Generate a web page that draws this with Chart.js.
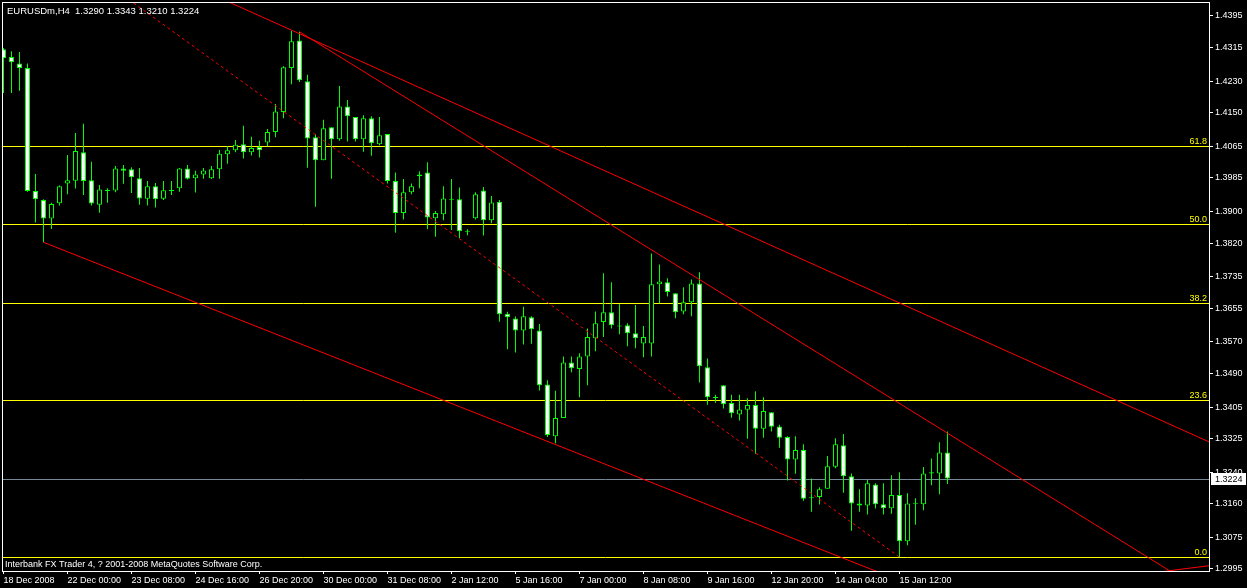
<!DOCTYPE html>
<html><head><meta charset="utf-8">
<script src="https://cdn.jsdelivr.net/npm/chart.js@4.4.1/dist/chart.umd.min.js"></script>
<style>html,body{margin:0;padding:0;background:#000;overflow:hidden}canvas{display:block}</style>
</head><body>
<canvas id="c" width="1247" height="588"></canvas>
<script>
const symbol = 'EURUSDm,H4';
const opens = [1.4311,1.4291,1.4275,1.4263,1.3952,1.3929,1.3882,1.3921,1.3971,1.3978,
 1.4050,1.3979,1.3917,1.3952,1.3953,1.4009,1.4007,1.3984,1.3932,1.3964,
 1.3932,1.3952,1.3959,1.4009,1.3984,1.3994,1.3984,1.4007,1.4045,1.4055,
 1.4070,1.4050,1.4063,1.4075,1.4101,1.4152,1.4263,1.4333,1.4230,1.4088,
 1.4030,1.4113,1.4083,1.4166,1.4139,1.4083,1.4136,1.4070,1.4096,1.3977,
 1.3896,1.3949,1.3994,1.3999,1.3883,1.3893,1.3932,1.3931,1.3849,1.3883,
 1.3953,1.3878,1.3925,1.3641,1.3629,1.3599,1.3632,1.3599,1.3462,1.3331,
 1.3377,1.3518,1.3501,1.3533,1.3579,1.3620,1.3645,1.3611,1.3612,1.3592,
 1.3566,1.3566,1.3716,1.3721,1.3693,1.3647,1.3670,1.3718,1.3506,1.3429,
 1.3460,1.3415,1.3386,1.3398,1.3410,1.3350,1.3392,1.3356,1.3329,1.3272,
 1.3296,1.3176,1.3177,1.3198,1.3254,1.3308,1.3230,1.3161,1.3156,1.3209,
 1.3159,1.3149,1.3182,1.3065,1.3160,1.3159,1.3237,1.3237,1.3290];
const highs = [1.4314,1.4306,1.4304,1.4275,1.3995,1.3931,1.3922,1.3966,1.4043,1.4099,
 1.4122,1.4026,1.3967,1.3959,1.4015,1.4018,1.4012,1.4010,1.3977,1.3972,
 1.3977,1.3977,1.4010,1.4018,1.4003,1.4010,1.4015,1.4056,1.4065,1.4081,
 1.4117,1.4089,1.4079,1.4109,1.4172,1.4268,1.4357,1.4355,1.4246,1.4096,
 1.4132,1.4113,1.4218,1.4182,1.4139,1.4144,1.4141,1.4139,1.4096,1.3999,
 1.3982,1.3971,1.4002,1.4025,1.3901,1.3964,1.3982,1.3961,1.3855,1.3949,
 1.3962,1.3939,1.3929,1.3646,1.3634,1.3659,1.3635,1.3615,1.3473,1.3446,
 1.3533,1.3533,1.3541,1.3604,1.3647,1.3744,1.3721,1.3665,1.3617,1.3663,
 1.3610,1.3794,1.3766,1.3731,1.3693,1.3708,1.3728,1.3746,1.3528,1.3436,
 1.3460,1.3436,1.3436,1.3427,1.3445,1.3430,1.3392,1.3360,1.3331,1.3331,
 1.3311,1.3224,1.3202,1.3281,1.3326,1.3337,1.3237,1.3197,1.3220,1.3212,
 1.3212,1.3232,1.3240,1.3187,1.3174,1.3253,1.3275,1.3316,1.3343];
const lows = [1.4200,1.4200,1.4206,1.3950,1.3872,1.3822,1.3856,1.3915,1.3944,1.3958,
 1.3942,1.3915,1.3897,1.3922,1.3949,1.3970,1.3947,1.3917,1.3915,1.3910,
 1.3929,1.3942,1.3950,1.3981,1.3948,1.3983,1.3982,1.3983,1.4021,1.4050,
 1.4034,1.4042,1.4037,1.4065,1.4088,1.4136,1.4222,1.4228,1.4011,1.3912,
 1.4030,1.3983,1.4079,1.4077,1.4077,1.4051,1.4041,1.4068,1.3971,1.3846,
 1.3880,1.3944,1.3959,1.3855,1.3836,1.3878,1.3853,1.3832,1.3840,1.3880,
 1.3839,1.3870,1.3621,1.3551,1.3543,1.3563,1.3565,1.3447,1.3329,1.3313,
 1.3377,1.3493,1.3430,1.3460,1.3546,1.3582,1.3604,1.3589,1.3559,1.3554,
 1.3531,1.3533,1.3668,1.3685,1.3630,1.3640,1.3635,1.3467,1.3411,1.3416,
 1.3401,1.3378,1.3371,1.3325,1.3287,1.3327,1.3343,1.3302,1.3219,1.3236,
 1.3168,1.3140,1.3158,1.3198,1.3250,1.3188,1.3092,1.3140,1.3133,1.3148,
 1.3133,1.3135,1.3025,1.3055,1.3107,1.3144,1.3207,1.3184,1.3210];
const closes = [1.4288,1.4278,1.4263,1.3952,1.3931,1.3882,1.3919,1.3964,1.3979,1.4053,
 1.3977,1.3920,1.3956,1.3955,1.4009,1.4003,1.3987,1.3933,1.3964,1.3931,
 1.3954,1.3954,1.4009,1.3983,1.3994,1.4004,1.4007,1.4046,1.4055,1.4069,
 1.4050,1.4061,1.4055,1.4101,1.4153,1.4265,1.4331,1.4232,1.4085,1.4030,
 1.4111,1.4083,1.4166,1.4141,1.4083,1.4136,1.4073,1.4093,1.3977,1.3896,
 1.3949,1.3964,1.3989,1.3885,1.3896,1.3933,1.3930,1.3850,1.3851,1.3944,
 1.3878,1.3923,1.3640,1.3632,1.3599,1.3635,1.3602,1.3460,1.3334,1.3377,
 1.3518,1.3503,1.3533,1.3582,1.3617,1.3645,1.3612,1.3609,1.3592,1.3579,
 1.3582,1.3716,1.3723,1.3696,1.3645,1.3670,1.3718,1.3508,1.3430,1.3428,
 1.3412,1.3389,1.3399,1.3410,1.3350,1.3395,1.3355,1.3327,1.3272,1.3296,
 1.3173,1.3174,1.3197,1.3255,1.3311,1.3230,1.3161,1.3156,1.3212,1.3159,
 1.3149,1.3182,1.3065,1.3161,1.3161,1.3237,1.3240,1.3290,1.3224];
const priceTicks = [1.4395,1.4315,1.4230,1.4150,1.4065,1.3985,1.3900,1.3820,1.3735,
 1.3655,1.3570,1.3490,1.3405,1.3325,1.3240,1.3160,1.3075,1.2995];
const dateTickIndex = [0,8,16,24,32,40,48,56,64,72,80,88,96,104,112];
const dateTickLabels = ['18 Dec 2008','22 Dec 00:00','23 Dec 08:00','24 Dec 16:00','26 Dec 20:00',
 '30 Dec 00:00','31 Dec 08:00','2 Jan 12:00','5 Jan 16:00','7 Jan 00:00','8 Jan 08:00',
 '9 Jan 16:00','12 Jan 20:00','14 Jan 04:00','15 Jan 12:00'];
const fibLabels = ['0.0','23.6','38.2','50.0','61.8'];
const fibPrices = [1.3025,1.3422,1.3668,1.3868,1.4067];
const bidPrice = 1.3224;
const channelUpper = [{x:28.2,y:1.4430},{x:151,y:1.3314}];
const channelMiddle = [{x:37,y:1.4355},{x:147,y:1.2975}];
const channelLower = [{x:5,y:1.3822},{x:112,y:1.2966}];
const dottedTrend = [{x:16.25,y:1.4428},{x:112,y:1.3025}];
const bottomRay = [{x:143.5,y:1.2985},{x:151,y:1.3004}];
const copyright = 'Interbank FX Trader 4, ? 2001-2008 MetaQuotes Software Corp.';

const xMin = -0.1875, xMax = 150.6875;
const yMin = 1.29899, yMax = 1.44304;
const GREEN = '#00ff00', RED = '#ff0000', YEL = '#ffff00', WHITE = '#ffffff', BIDC = '#778899';
const FONT = 'Liberation Sans, Arial, sans-serif';

const idx = opens.map((_, i) => i);
const bodies = idx.map(i => ({x: i, y: [Math.min(opens[i], closes[i]), Math.max(opens[i], closes[i])]}));
const wicks = idx.map(i => ({x: i, y: [lows[i], highs[i]]}));
const bodyFill = idx.map(i => closes[i] < opens[i] ? WHITE : '#000000');

function lineDs(data, color, dash){
  return {type:'line', data, borderColor:color, borderWidth:1, pointRadius:0, fill:false,
    tension:0, borderDash: dash || [], order:0};
}

const datasets = [
  lineDs(channelUpper, RED), lineDs(channelMiddle, RED), lineDs(channelLower, RED),
  lineDs(dottedTrend, RED, [3,3]), lineDs(bottomRay, RED),
  {type:'bar', data:bodies, backgroundColor:bodyFill, borderColor:GREEN, borderWidth:1,
   borderSkipped:false, grouped:false, barPercentage:1, categoryPercentage:1,
   maxBarThickness:5, minBarLength:1, inflateAmount:0, order:1},
  {type:'bar', data:wicks, backgroundColor:GREEN, borderWidth:0, grouped:false,
   barPercentage:1, categoryPercentage:1, maxBarThickness:1, inflateAmount:0, order:2},
];

function crispH(ctx, a, yv, color){
  const py = Math.round(yv) + 0.5;
  ctx.strokeStyle = color; ctx.lineWidth = 1;
  ctx.beginPath(); ctx.moveTo(a.left, py); ctx.lineTo(a.right, py); ctx.stroke();
}

const overlay = {
  id:'overlay',
  beforeDatasetsDraw(chart){
    const {ctx, chartArea:a, scales:{y}} = chart;
    ctx.save();
    crispH(ctx, a, y.getPixelForValue(bidPrice), BIDC);
    fibPrices.forEach(p => crispH(ctx, a, y.getPixelForValue(p), YEL));
    ctx.restore();
  },
  afterDatasetsDraw(chart){
    const {ctx, chartArea:a, scales:{y}} = chart;
    ctx.save();
    ctx.font = '9px ' + FONT; ctx.fillStyle = YEL; ctx.textAlign = 'right'; ctx.textBaseline = 'alphabetic';
    fibPrices.forEach((p, k) => ctx.fillText(fibLabels[k], a.right - 2, Math.round(y.getPixelForValue(p)) - 2));
    ctx.restore();
  },
  afterDraw(chart){
    const {ctx, chartArea:a, scales:{y}} = chart;
    ctx.save();
    ctx.strokeStyle = WHITE; ctx.lineWidth = 1;
    ctx.strokeRect(Math.round(a.left)+0.5, Math.round(a.top)+0.5, Math.round(a.right-a.left), Math.round(a.bottom-a.top));
    ctx.fillStyle = WHITE; ctx.textAlign = 'left'; ctx.textBaseline = 'alphabetic';
    const last = opens.length - 1;
    ctx.font = '9.5px ' + FONT;
    ctx.fillText(symbol + '  ' + [opens[last], highs[last], lows[last], closes[last]].map(v => v.toFixed(4)).join(' '), 7, 14);
    ctx.font = '9px ' + FONT;
    ctx.fillText(copyright, 5, 567);
    const by = Math.round(y.getPixelForValue(bidPrice));
    ctx.fillStyle = WHITE;
    ctx.fillRect(Math.round(a.right)+2, by - 6, 35, 12);
    ctx.fillStyle = '#000000'; ctx.textBaseline = 'middle';
    ctx.fillText(bidPrice.toFixed(4), Math.round(a.right)+6, by + 0.5);
    ctx.restore();
  }
};

new Chart(document.getElementById('c'), {
  type:'bar',
  data:{datasets},
  options:{
    responsive:false, animation:false, devicePixelRatio:1,
    layout:{padding:{left:2, top:2, right:0, bottom:0}},
    plugins:{legend:{display:false}, tooltip:{enabled:false}},
    scales:{
      x:{type:'linear', min:xMin, max:xMax, offset:false,
        afterBuildTicks: s => { s.ticks = dateTickIndex.map(v => ({value:v})); },
        afterFit: s => { s.height = 17; s.paddingLeft = 0; s.paddingRight = 0; },
        grid:{display:true, drawOnChartArea:false, drawTicks:true, tickLength:3, color:WHITE, offset:false},
        border:{display:true, color:WHITE, width:1},
        ticks:{color:WHITE, font:{family:FONT, size:9}, padding:1, align:'start',
          maxRotation:0, minRotation:0, autoSkip:false,
          callback:(v, k) => dateTickLabels[k]}},
      y:{type:'linear', position:'right', min:yMin, max:yMax, beginAtZero:false,
        afterBuildTicks: s => { s.ticks = priceTicks.map(v => ({value:v})); },
        afterFit: s => { s.width = 38; s.paddingTop = 0; s.paddingBottom = 0; },
        grid:{display:true, drawOnChartArea:false, drawTicks:true, tickLength:4, color:WHITE},
        border:{display:true, color:WHITE, width:1},
        ticks:{color:WHITE, font:{family:FONT, size:9}, padding:2,
          callback: v => Number(v).toFixed(4)}}
    }
  },
  plugins:[overlay]
});
</script>
</body></html>
